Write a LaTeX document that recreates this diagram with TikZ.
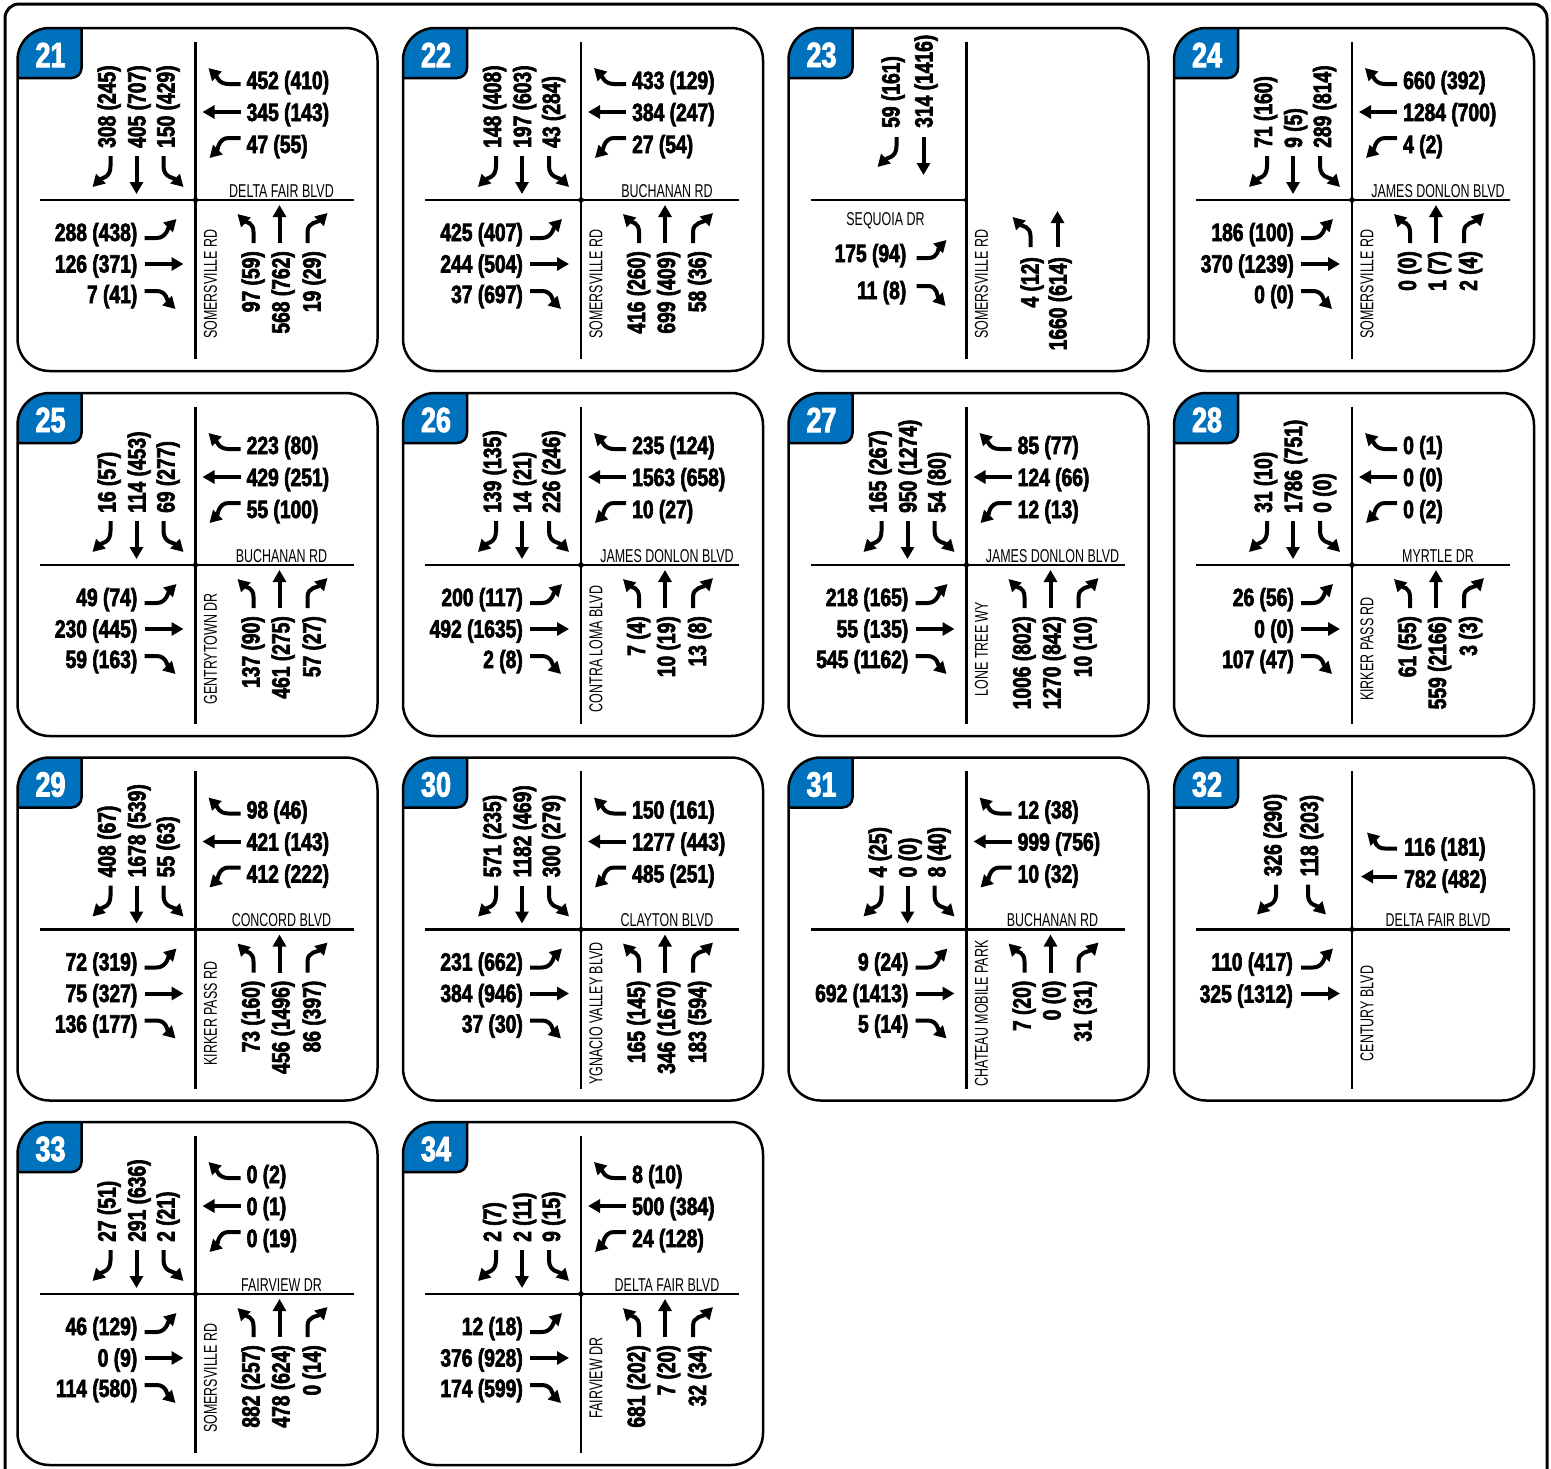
\documentclass[tikz,border=0pt]{standalone}
\usepackage{fontspec}
\newfontfamily\volfont{Liberation Sans}[FakeStretch=0.77,FakeBold=2.5]
\newfontfamily\strfont{Liberation Sans}[FakeStretch=0.67]
\usetikzlibrary{arrows.meta}
\definecolor{badgeblue}{RGB}{0,113,188}
\tikzset{
  pline/.style={line width=2.5pt},
  rline/.style={line width=2.5pt},
  mv/.style={line width=4pt, -{Triangle[width=13pt,length=12pt]}},
  vol/.style={font=\volfont\bfseries\fontsize{25pt}{25pt}\selectfont, inner sep=0pt},
  strname/.style={font=\strfont\fontsize{18.6pt}{18.6pt}\selectfont, inner sep=0pt},
  badgetxt/.style={font=\volfont\bfseries\fontsize{35pt}{35pt}\selectfont, text=white, inner sep=0pt},
}
\newcommand\pnlbox[1]{%
  \begin{scope}
    \clip[rounded corners=32pt] (0,0) rectangle (360,343);
    \fill[badgeblue, rounded corners=10pt] (-20,-20) rectangle (64,50);
    \draw[pline, rounded corners=10pt] (64,-10) -- (64,50) -- (-10,50);
  \end{scope}
  \draw[pline, rounded corners=32pt] (0,0) rectangle (360,343);
  \node[badgetxt] (badge#1) at (33,27) {#1};
}
\newcommand\junc{\fill (178,165) .. controls (179,171) .. (185,172) .. controls (179,173) .. (178,179) .. controls (177,173) .. (171,172) .. controls (177,171) .. (178,165) -- cycle;}
\newcommand\crossfull{\draw[rline] (178,13.5) -- (178,331); \draw[rline] (22,172) -- (336,172); \junc}
\newcommand\sbthree[3]{%
  \node[vol,rotate=90,anchor=base west] (sbl\pnlid) at (98,120) {#1};
  \node[vol,rotate=90,anchor=base west] (sbt\pnlid) at (128,120) {#2};
  \node[vol,rotate=90,anchor=base west] (sbr\pnlid) at (157,120) {#3};
  \draw[mv] (93,128) -- (93,138) .. controls (93,150) and (84,150) .. (75,159);
  \draw[mv] (119,128) -- (119,166);
  \draw[mv] (146,128) -- (146,138) .. controls (146,150) and (157,150) .. (166,159);
}
\newcommand\wbthree[3]{%
  \node[vol,anchor=base west] (wbr\pnlid) at (229,61) {#1};
  \node[vol,anchor=base west] (wbt\pnlid) at (229,93) {#2};
  \node[vol,anchor=base west] (wbl\pnlid) at (229,125) {#3};
  \draw[mv] (223,56) -- (211,56) .. controls (201,56) and (199,48) .. (191,40);
  \draw[mv] (223,84) -- (185,84);
  \draw[mv] (223,110) -- (211,110) .. controls (201,110) and (200,122) .. (192,130);
}
\newcommand\ebthree[3]{%
  \node[vol,anchor=base east] (ebl\pnlid) at (120,213) {#1};
  \node[vol,anchor=base east] (ebt\pnlid) at (120,244.5) {#2};
  \node[vol,anchor=base east] (ebr\pnlid) at (120,275) {#3};
  \draw[mv] (127,210) -- (139,210) .. controls (149,210) and (151,199) .. (159,191);
  \draw[mv] (127,236) -- (166,236);
  \draw[mv] (127,263) -- (139,263) .. controls (149,263) and (150,273) .. (158,281);
}
\newcommand\nbthree[3]{%
  \node[vol,rotate=90,anchor=base east] (nbl\pnlid) at (242,223) {#1};
  \node[vol,rotate=90,anchor=base east] (nbt\pnlid) at (272,223) {#2};
  \node[vol,rotate=90,anchor=base east] (nbr\pnlid) at (303,223) {#3};
  \draw[mv] (236,215) -- (236,204) .. controls (236,194) and (228,194) .. (220,186);
  \draw[mv] (262,215) -- (262,177);
  \draw[mv] (290,215) -- (290,204) .. controls (290,194) and (301,194) .. (310,185);
}
\newcommand\estreet[1]{\node[strname,anchor=base] (es\pnlid) at (264,169) {#1};}
\newcommand\sstreet[1]{\node[strname,rotate=90] (ss\pnlid) at (193,256) {#1};}
\newcommand\stdpanel[2]{\def\pnlid{#1}\pnlbox{#1}\crossfull\sstreet{#2}}

\begin{document}
\begin{tikzpicture}[x=1pt,y=-1pt]
\useasboundingbox (0,0) rectangle (1551,1468);
\fill[white] (0,0) rectangle (1551,1468);
\draw[line width=3pt, rounded corners=14pt] (5,4) rectangle (1547,1510);

% 21
\begin{scope}[shift={(17.5,28)}]
\stdpanel{21}{SOMERSVILLE RD}
\sbthree{308 (245)}{405 (707)}{150 (429)}
\wbthree{452 (410)}{345 (143)}{47 (55)}
\estreet{DELTA FAIR BLVD}
\ebthree{288 (438)}{126 (371)}{7 (41)}
\nbthree{97 (59)}{568 (762)}{19 (29)}
\end{scope}
% 22
\begin{scope}[shift={(403,28)}]
\stdpanel{22}{SOMERSVILLE RD}
\sbthree{148 (408)}{197 (603)}{43 (284)}
\wbthree{433 (129)}{384 (247)}{27 (54)}
\estreet{BUCHANAN RD}
\ebthree{425 (407)}{244 (504)}{37 (697)}
\nbthree{416 (260)}{699 (409)}{58 (36)}
\end{scope}
% 23
\begin{scope}[shift={(788.5,28)}]
\def\pnlid{23}
\pnlbox{23}
\draw[rline] (178,13.5) -- (178,331);
\draw[rline] (22,172) -- (178,172);
\fill (178,165) .. controls (177,171) .. (171,172) .. controls (177,173) .. (178,179) -- cycle;
\node[strname,anchor=base] (ew23) at (97,197) {SEQUOIA DR};
\sstreet{SOMERSVILLE RD}
\node[vol,rotate=90,anchor=base west] (sbl23) at (111,100) {59 (161)};
\node[vol,rotate=90,anchor=base west] (sbt23) at (144,100) {314 (1416)};
\draw[mv] (108,109) -- (108,118) .. controls (108,130) and (98,130) .. (89,139);
\draw[mv] (135,109) -- (135,147);
\node[vol,anchor=base east] (ebl23) at (118,234) {175 (94)};
\node[vol,anchor=base east] (ebr23) at (118,271) {11 (8)};
\draw[mv] (128,230) -- (140,230) .. controls (150,230) and (150,220) .. (158,212);
\draw[mv] (128,258) -- (140,258) .. controls (149,258) and (149,269) .. (157,278);
\node[vol,rotate=90,anchor=base east] (nbl23) at (250,229) {4 (12)};
\node[vol,rotate=90,anchor=base east] (nbt23) at (278,229) {1660 (614)};
\draw[mv] (242,219) -- (242,208) .. controls (242,198) and (233,198) .. (224,189);
\draw[mv] (269,219) -- (269,183);
\end{scope}
% 24
\begin{scope}[shift={(1174,28)}]
\stdpanel{24}{SOMERSVILLE RD}
\sbthree{71 (160)}{9 (5)}{289 (814)}
\wbthree{660 (392)}{1284 (700)}{4 (2)}
\estreet{JAMES DONLON BLVD}
\ebthree{186 (100)}{370 (1239)}{0 (0)}
\nbthree{0 (0)}{1 (7)}{2 (4)}
\end{scope}
% 25
\begin{scope}[shift={(17.5,393)}]
\stdpanel{25}{GENTRYTOWN DR}
\sbthree{16 (57)}{114 (453)}{69 (277)}
\wbthree{223 (80)}{429 (251)}{55 (100)}
\estreet{BUCHANAN RD}
\ebthree{49 (74)}{230 (445)}{59 (163)}
\nbthree{137 (90)}{461 (275)}{57 (27)}
\end{scope}
% 26
\begin{scope}[shift={(403,393)}]
\stdpanel{26}{CONTRA LOMA BLVD}
\sbthree{139 (135)}{14 (21)}{226 (246)}
\wbthree{235 (124)}{1563 (658)}{10 (27)}
\estreet{JAMES DONLON BLVD}
\ebthree{200 (117)}{492 (1635)}{2 (8)}
\nbthree{7 (4)}{10 (19)}{13 (8)}
\end{scope}
% 27
\begin{scope}[shift={(788.5,393)}]
\stdpanel{27}{LONE TREE WY}
\sbthree{165 (267)}{950 (1274)}{54 (80)}
\wbthree{85 (77)}{124 (66)}{12 (13)}
\estreet{JAMES DONLON BLVD}
\ebthree{218 (165)}{55 (135)}{545 (1162)}
\nbthree{1006 (802)}{1270 (842)}{10 (10)}
\end{scope}
% 28
\begin{scope}[shift={(1174,393)}]
\stdpanel{28}{KIRKER PASS RD}
\sbthree{31 (10)}{1786 (751)}{0 (0)}
\wbthree{0 (1)}{0 (0)}{0 (2)}
\estreet{MYRTLE DR}
\ebthree{26 (56)}{0 (0)}{107 (47)}
\nbthree{61 (55)}{559 (2166)}{3 (3)}
\end{scope}
% 29
\begin{scope}[shift={(17.5,757.5)}]
\stdpanel{29}{KIRKER PASS RD}
\sbthree{408 (67)}{1678 (539)}{55 (63)}
\wbthree{98 (46)}{421 (143)}{412 (222)}
\estreet{CONCORD BLVD}
\ebthree{72 (319)}{75 (327)}{136 (177)}
\nbthree{73 (160)}{456 (1496)}{86 (397)}
\end{scope}
% 30
\begin{scope}[shift={(403,757.5)}]
\stdpanel{30}{YGNACIO VALLEY BLVD}
\sbthree{571 (235)}{1182 (469)}{300 (279)}
\wbthree{150 (161)}{1277 (443)}{485 (251)}
\estreet{CLAYTON BLVD}
\ebthree{231 (662)}{384 (946)}{37 (30)}
\nbthree{165 (145)}{346 (1670)}{183 (594)}
\end{scope}
% 31
\begin{scope}[shift={(788.5,757.5)}]
\stdpanel{31}{CHATEAU MOBILE PARK}
\sbthree{4 (25)}{0 (0)}{8 (40)}
\wbthree{12 (38)}{999 (756)}{10 (32)}
\estreet{BUCHANAN RD}
\ebthree{9 (24)}{692 (1413)}{5 (14)}
\nbthree{7 (20)}{0 (0)}{31 (31)}
\end{scope}
% 32
\begin{scope}[shift={(1174,757.5)}]
\stdpanel{32}{CENTURY BLVD}
\estreet{DELTA FAIR BLVD}
\node[vol,rotate=90,anchor=base west] (sbl32) at (107.5,119) {326 (290)};
\node[vol,rotate=90,anchor=base west] (sbr32) at (144,119) {118 (203)};
\draw[mv] (102,127) -- (102,137) .. controls (102,148) and (92,148) .. (83,157);
\draw[mv] (134,127) -- (134,137) .. controls (134,148) and (143,148) .. (152,157);
\node[vol,anchor=base west] (wbr32) at (230,98) {116 (181)};
\node[vol,anchor=base west] (wbt32) at (230,130) {782 (482)};
\draw[mv] (223,91) -- (211,91) .. controls (201,91) and (201,83) .. (193,75);
\draw[mv] (223,119) -- (187,119);
\node[vol,anchor=base east] (ebl32) at (119,213) {110 (417)};
\node[vol,anchor=base east] (ebt32) at (119,245) {325 (1312)};
\draw[mv] (127,210) -- (139,210) .. controls (149,210) and (151,199) .. (159,191);
\draw[mv] (127,236) -- (166,236);
\end{scope}
% 33
\begin{scope}[shift={(17.5,1122)}]
\stdpanel{33}{SOMERSVILLE RD}
\sbthree{27 (51)}{291 (636)}{2 (21)}
\wbthree{0 (2)}{0 (1)}{0 (19)}
\estreet{FAIRVIEW DR}
\ebthree{46 (129)}{0 (9)}{114 (580)}
\nbthree{882 (257)}{478 (624)}{0 (14)}
\end{scope}
% 34
\begin{scope}[shift={(403,1122)}]
\stdpanel{34}{FAIRVIEW DR}
\sbthree{2 (7)}{2 (11)}{9 (15)}
\wbthree{8 (10)}{500 (384)}{24 (128)}
\estreet{DELTA FAIR BLVD}
\ebthree{12 (18)}{376 (928)}{174 (599)}
\nbthree{681 (202)}{7 (20)}{32 (34)}
\end{scope}
\end{tikzpicture}
\end{document}
